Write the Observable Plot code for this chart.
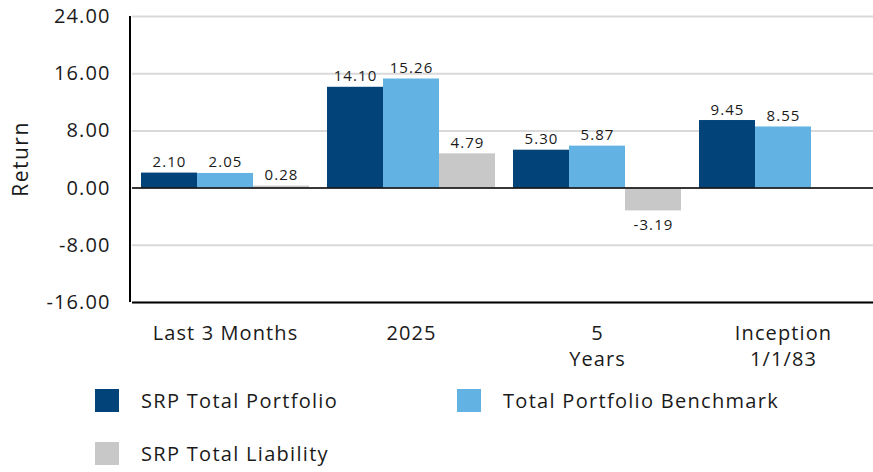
<!DOCTYPE html>
<html>
<head>
<meta charset="utf-8">
<script src="https://cdn.jsdelivr.net/npm/d3@7"></script>
<script src="https://cdn.jsdelivr.net/npm/@observablehq/plot@0.6"></script>
<style>
  html, body { margin: 0; padding: 0; background: #fff; }
  body { width: 873px; height: 472px; overflow: hidden; font-family: "Open Sans", sans-serif; color: #1a1a1a; }
  #legend { display: grid; grid-template-columns: 362px 380px; row-gap: 30px; margin-left: 95px; margin-top: 11px; }
  .item { display: flex; align-items: center; height: 23px; font-size: 20px; letter-spacing: 1.3px; }
  .sw { width: 24px; height: 23px; margin-right: 22px; flex: none; }
  svg text.lbl { letter-spacing: 0.9px; }
</style>
</head>
<body>
<div id="chart"></div>
<div id="legend"></div>
<script>
const categories = ["Last 3 Months", "2025", "5\nYears", "Inception\n1/1/83"];
const seriesNames = ["SRP Total Portfolio", "Total Portfolio Benchmark", "SRP Total Liability"];
const portfolio = [2.10, 14.10, 5.30, 9.45];
const benchmark = [2.05, 15.26, 5.87, 8.55];
const liability = [0.28, 4.79, -3.19, null];
const colors = ["#024479", "#62b3e3", "#c8c8c8"];
const yTicks = [-16, -8, 0, 8, 16, 24];

const seriesValues = [portfolio, benchmark, liability];
const rows = [];
categories.forEach((cat, i) => {
  seriesNames.forEach((s, j) => {
    const v = seriesValues[j][i];
    if (v !== null && v !== undefined) rows.push({cat, series: s, value: v});
  });
});

const fmt = v => v.toFixed(2);

const plot = Plot.plot({
  width: 873,
  height: 378,
  marginTop: 16,
  marginBottom: 76,
  marginLeft: 130,
  marginRight: -4,
  style: {fontFamily: "Open Sans, sans-serif", fontSize: "20px", color: "#1a1a1a", background: "#fff", letterSpacing: "1.1px"},
  fx: {domain: categories, paddingInner: 0, paddingOuter: 0, label: null},
  x: {domain: seriesNames, paddingInner: 0, paddingOuter: 0.16, axis: null},
  y: {domain: [-16, 24], label: null},
  color: {domain: seriesNames, range: colors},
  marks: [
    Plot.gridY(yTicks, {stroke: "#d9d9d9", strokeOpacity: 1, strokeWidth: 2}),
    Plot.axisY(yTicks, {tickSize: 0, tickPadding: 22, tickFormat: fmt, fontSize: 20, label: null}),
    Plot.axisFx({anchor: "bottom", tickSize: 0, tickPadding: 19, fontSize: 20, lineHeight: 1.3, lineAnchor: "top", label: null}),
    Plot.barY(rows, {fx: "cat", x: "series", y: "value", fill: "series"}),
    Plot.ruleY([0], {stroke: "#000", strokeWidth: 1.5}),
    Plot.ruleY([-16], {stroke: "#000", strokeWidth: 2}),
    Plot.text(rows, {filter: d => d.value >= 0, fx: "cat", x: "series", y: "value", text: d => fmt(d.value), lineAnchor: "bottom", dy: -6, fontSize: 15, fill: "#1a1a1a", className: "lbl"}),
    Plot.text(rows, {filter: d => d.value < 0, fx: "cat", x: "series", y: "value", text: d => fmt(d.value), lineAnchor: "top", dy: 8, fontSize: 15, fill: "#1a1a1a", className: "lbl"})
  ]
});

document.getElementById("chart").appendChild(plot);

// left axis line, positioned with the plot's own scales
const ys = plot.scale("y");
const fxs = plot.scale("fx");
const svg = d3.select(plot);
const x0 = fxs.range[0];
svg.append("line")
  .attr("x1", x0).attr("x2", x0)
  .attr("y1", ys.apply(ys.domain[1])).attr("y2", ys.apply(ys.domain[0]))
  .attr("stroke", "#000").attr("stroke-width", 2);

// y axis title
svg.append("text")
  .attr("transform", `translate(20,${(ys.apply(ys.domain[0]) + ys.apply(ys.domain[1])) / 2}) rotate(-90)`)
  .attr("text-anchor", "middle").attr("dominant-baseline", "central")
  .attr("font-size", 21).attr("fill", "#1a1a1a").style("letter-spacing", "1.5px")
  .text("Return");

const legend = document.getElementById("legend");
seriesNames.forEach((s, i) => {
  const item = document.createElement("div");
  item.className = "item";
  const sw = document.createElement("span");
  sw.className = "sw";
  sw.style.background = colors[i];
  const label = document.createElement("span");
  label.textContent = s;
  item.appendChild(sw);
  item.appendChild(label);
  legend.appendChild(item);
});
</script>
</body>
</html>
